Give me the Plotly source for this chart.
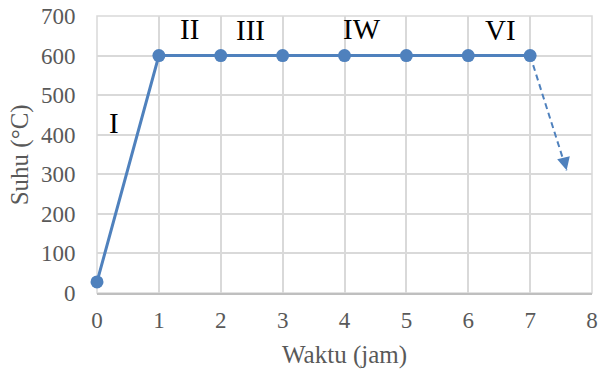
import plotly.graph_objects as go

waktu = [0, 1, 2, 3, 4, 5, 6, 7]
suhu = [28, 600, 600, 600, 600, 600, 600, 600]

arrow_x = [7, 7.59]
arrow_y = [600, 310]

stage_labels = ["I", "II", "III", "IW", "VI"]
stage_x = [0.27, 1.49, 2.48, 4.28, 6.52]
stage_y = [430, 668, 665, 668, 665]

blue = "#4F81BD"
serif = "Liberation Serif"
gray = "#595959"

fig = go.Figure()
fig.add_trace(go.Scatter(x=arrow_x, y=arrow_y, mode="lines",
                         line=dict(color=blue, width=2, dash="6px,4px"),
                         showlegend=False, hoverinfo="skip"))
fig.add_trace(go.Scatter(x=waktu, y=suhu, mode="lines+markers",
                         line=dict(color=blue, width=3),
                         marker=dict(color=blue, size=13),
                         showlegend=False, cliponaxis=False))
fig.add_annotation(x=arrow_x[1], y=arrow_y[1], ax=7.55, ay=335,
                   xref="x", yref="y", axref="x", ayref="y",
                   showarrow=True, arrowhead=2, arrowsize=1.3, arrowwidth=2,
                   arrowcolor=blue, text="")
for t, x, y in zip(stage_labels, stage_x, stage_y):
    fig.add_annotation(x=x, y=y, text=t, showarrow=False,
                       font=dict(family=serif, size=29, color="#000000"))

# axis titles
fig.add_annotation(x=0.5, y=-0.224, xref="paper", yref="paper", text="Waktu (jam)",
                   showarrow=False, yanchor="middle",
                   font=dict(family=serif, size=25, color=gray))
fig.add_annotation(x=-0.156, y=0.5, xref="paper", yref="paper", text="Suhu (°C)",
                   showarrow=False, textangle=-90, xanchor="center",
                   font=dict(family=serif, size=25, color=gray))

fig.update_layout(
    width=600, height=374,
    margin=dict(l=97, r=8, t=16, b=81),
    paper_bgcolor="white", plot_bgcolor="white",
    font=dict(family=serif, size=23, color=gray),
)
fig.update_xaxes(range=[0, 8], dtick=1, showgrid=True, gridcolor="#d9d9d9", gridwidth=1.5,
                 zeroline=False, showline=True, linecolor="#bfbfbf", linewidth=1.5,
                 automargin=False, ticks="outside", ticklen=6, tickcolor="rgba(0,0,0,0)",
                 tickfont=dict(family=serif, size=23, color=gray))
fig.update_yaxes(range=[0, 700], dtick=100, showgrid=True, gridcolor="#d9d9d9", gridwidth=1.5,
                 zeroline=False, showline=False, automargin=False,
                 ticks="outside", ticklen=16, tickcolor="rgba(0,0,0,0)",
                 tickfont=dict(family=serif, size=23, color=gray))
fig.add_shape(type="rect", xref="paper", yref="paper", x0=0, y0=0, x1=1, y1=1,
              line=dict(color="#d9d9d9", width=1.5), layer="below")

fig.write_html("out.html")
